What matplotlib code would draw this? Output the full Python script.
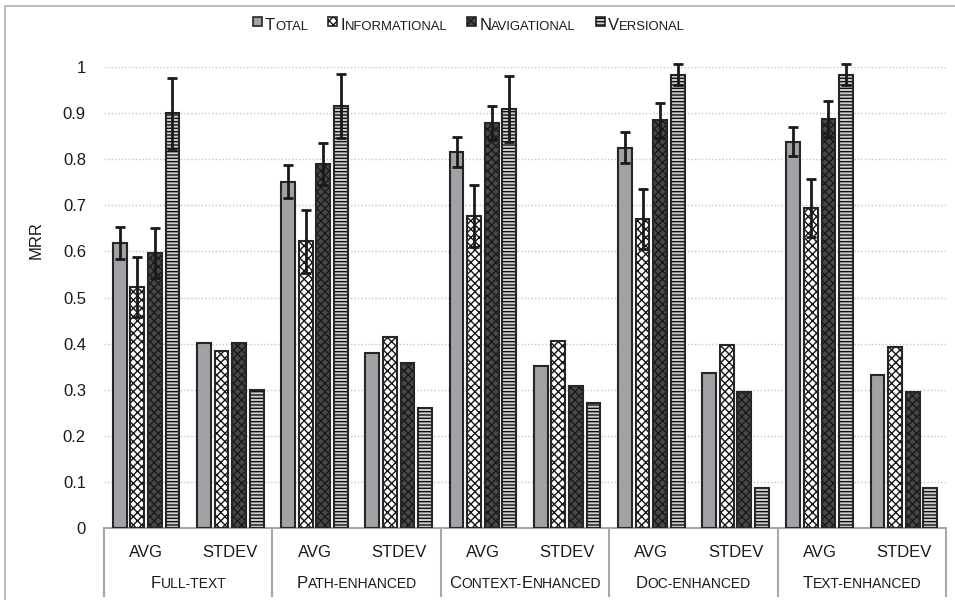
import numpy as np
import matplotlib
import matplotlib.pyplot as plt
from matplotlib.patches import Rectangle
from matplotlib.lines import Line2D
from matplotlib.transforms import ScaledTranslation, blended_transform_factory

matplotlib.use('agg')
plt.rcParams['font.family'] = ['Liberation Sans', 'DejaVu Sans']
plt.rcParams['hatch.linewidth'] = 1.0

groups = ['Full-text', 'Path-enhanced', 'Context-Enhanced', 'Doc-enhanced', 'Text-enhanced']
stats = ['AVG', 'STDEV']
series = ['Total', 'Informational', 'Navigational', 'Versional']

total_avg = [0.618, 0.751, 0.816, 0.825, 0.838]
info_avg = [0.523, 0.622, 0.677, 0.670, 0.695]
nav_avg = [0.597, 0.790, 0.878, 0.884, 0.887]
vers_avg = [0.900, 0.916, 0.909, 0.983, 0.983]

total_std = [0.401, 0.380, 0.351, 0.336, 0.332]
info_std = [0.383, 0.415, 0.406, 0.397, 0.393]
nav_std = [0.401, 0.358, 0.308, 0.295, 0.295]
vers_std = [0.299, 0.260, 0.271, 0.087, 0.087]

# error bars only on the AVG bars
total_err = [0.034, 0.036, 0.032, 0.034, 0.031]
info_err = [0.065, 0.068, 0.067, 0.065, 0.063]
nav_err = [0.054, 0.045, 0.037, 0.038, 0.039]
vers_err = [0.077, 0.069, 0.071, 0.023, 0.023]

avgs = [total_avg, info_avg, nav_avg, vers_avg]
stds = [total_std, info_std, nav_std, vers_std]
errs = [total_err, info_err, nav_err, vers_err]

# face, hatch, hatch colour
styles = [
    ('#a2a2a6', None, None),
    ('white', 'xxxx', '#151515'),
    ('#484848', 'xxxx', '#1a1a1a'),
    ('#cfcfcf', '-----', '#111111'),
]

fig = plt.figure(figsize=(9.55, 6), dpi=100)
W, H = 955, 600
ax = fig.add_axes([104 / W, 1 - 528 / H, (946 - 104) / W, (528 - 67) / H])


def smallcaps(x, y, s, transform, big, small, ha='center', color='#1a1a1a'):
    """Draw s in small caps: capitals at big size, other letters upper-cased at small size."""
    runs = []
    for ch in s:
        size = big if ch.isupper() else small
        if runs and runs[-1][1] == size:
            runs[-1][0] += ch.upper()
        else:
            runs.append([ch.upper(), size])
    texts = [fig.text(0, 0, t, fontsize=sz, va='baseline', ha='left', color=color)
             for t, sz in runs]
    renderer = fig.canvas.get_renderer()
    widths = [t.get_window_extent(renderer).width for t in texts]
    off = -sum(widths) / 2 if ha == 'center' else 0
    for t, w in zip(texts, widths):
        t.set_position((x, y))
        t.set_transform(transform + ScaledTranslation(off / fig.dpi, 0, fig.dpi_scale_trans))
        off += w
    return sum(widths)


step, width = 0.209, 0.166
pos_avg = np.arange(len(groups)) * 2
pos_std = pos_avg + 1

for j, (face, hatch, hcol) in enumerate(styles):
    off = (j - 1.5) * step
    for pos, vals in ((pos_avg, avgs[j]), (pos_std, stds[j])):
        ax.bar(pos + off, vals, width, color=face, linewidth=0, zorder=2)
        if hatch:
            ax.bar(pos + off, vals, width, facecolor='none', edgecolor=hcol,
                   hatch=hatch, linewidth=0, zorder=2)
        ax.bar(pos + off, vals, width, facecolor='none', edgecolor='#262626',
               linewidth=1.5, zorder=3)
    ax.errorbar(pos_avg + off, avgs[j], yerr=errs[j], fmt='none', ecolor='#1a1a1a',
                elinewidth=2, capsize=3.6, capthick=2, zorder=4, clip_on=False)

ax.set_xlim(-0.5, 2 * len(groups) - 0.5)
ax.set_ylim(0, 1)
ax.set_yticks(np.arange(0, 1.01, 0.1))
ax.set_yticklabels(['0'] + ['%.1f' % v for v in np.arange(0.1, 0.95, 0.1)] + ['1'])
ax.tick_params(axis='y', length=0, pad=13, labelsize=12, labelcolor='#1a1a1a')
ax.set_xticks([])
for s in ax.spines.values():
    s.set_visible(False)
ax.yaxis.grid(True, linestyle=(0, (1, 1.5)), color='#c4c4c4', linewidth=1)
ax.set_axisbelow(True)

# excel style two-level category box under the plot
bt = blended_transform_factory(ax.transData, ax.transAxes)
box_kw = dict(color='#a8a8a8', linewidth=1.5, transform=bt, clip_on=False)
ax.add_line(Line2D([-0.5, 2 * len(groups) - 0.5], [0, 0], **box_kw))
for k in range(len(groups) + 1):
    xk = 2 * k - 0.5
    ax.add_line(Line2D([xk, xk], [0, -0.148], **box_kw))

for i, g in enumerate(groups):
    for k, st in enumerate(stats):
        ax.text(2 * i + k, -0.063, st, transform=bt, ha='center', va='baseline',
                fontsize=12, color='#1a1a1a')
    smallcaps(2 * i + 0.5, -0.131, g, bt, 12, 10)

fig.text(36 / W, 1 - 240 / H, 'MRR', rotation=90, ha='center', va='center',
         fontsize=12, color='#1a1a1a')

# legend, laid out left to right
x = 253
for name, (face, hatch, hcol) in zip(series, styles):
    sq = Rectangle((x / W, 1 - 26 / H), 9 / W, 9 / H, transform=fig.transFigure,
                   facecolor=face, edgecolor='#262626', linewidth=1.2)
    fig.add_artist(sq)
    if hatch:
        fig.add_artist(Rectangle((x / W, 1 - 26 / H), 9 / W, 9 / H, transform=fig.transFigure,
                                 facecolor='none', edgecolor=hcol, hatch=hatch, linewidth=0))
    w = smallcaps((x + 12) / W, 1 - 30 / H, name, fig.transFigure, 12, 9.4, ha='left')
    x += 12 + w + 20

# outer chart border
fig.add_artist(Rectangle((5 / W, -0.1), 1.5, 1 - 6 / H + 0.1, transform=fig.transFigure,
                         fill=False, edgecolor='#bcbcbc', linewidth=1.5))

fig.savefig('out.png', dpi=100)
